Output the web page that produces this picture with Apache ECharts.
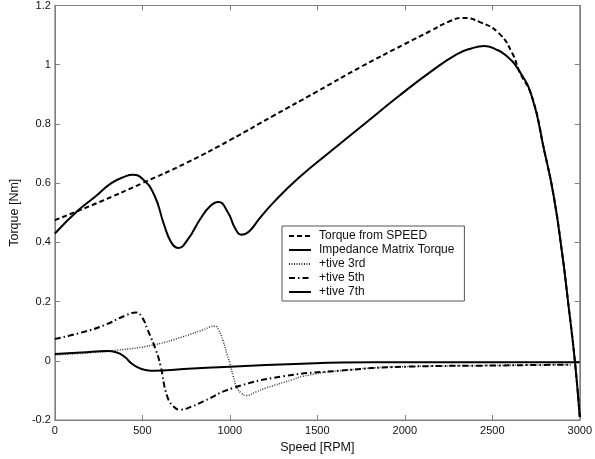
<!DOCTYPE html>
<html>
<head>
<meta charset="utf-8">
<script src="https://cdn.jsdelivr.net/npm/echarts@6/dist/echarts.min.js"></script>
<style>
html,body{margin:0;padding:0;background:#fff;}
#chart{width:595px;height:459px;}
</style>
</head>
<body>
<div id="chart"></div>
<script>
// Tick labels
const xTicks = [0, 500, 1000, 1500, 2000, 2500, 3000];
const yTicks = [-0.2, 0, 0.2, 0.4, 0.6, 0.8, 1, 1.2];

// Torque from SPEED
const speedRpm = [0,250,500,750,1000,1250,1500,1750,2000,2150,2250,2330,2430,2540,2615,2653,2727,2797,2850,2900,2933,2972,3000];
const speedTorque = [0.475,0.535,0.6,0.668,0.745,0.828,0.91,0.993,1.07,1.115,1.145,1.158,1.144,1.105,1.038,0.98,0.891,0.71,0.56,0.36,0.2,0,-0.19];

// Impedance Matrix Torque
const impRpm = [0,135,230,323,400,445,500,568,624,665,705,760,830,887,934,990,1030,1065,1110,1169,1250,1394,1582,1769,1957,2145,2296,2380,2455,2520,2577,2653,2727,2797,2850,2900,2933,2972,3000];
const impTorque = [0.43,0.509,0.554,0.6,0.622,0.628,0.615,0.56,0.46,0.4,0.381,0.41,0.478,0.522,0.536,0.5,0.448,0.426,0.437,0.48,0.535,0.618,0.71,0.8,0.89,0.975,1.035,1.055,1.063,1.052,1.032,0.98,0.891,0.71,0.56,0.36,0.2,0,-0.19];

// +tive 3rd
const h3Rpm = [0,200,348,567,736,849,890,915,935,960,985,1000,1018,1040,1065,1093,1150,1206,1356,1413,1619,2000,2500,2950];
const h3Torque = [0.02,0.027,0.035,0.054,0.082,0.105,0.115,0.117,0.105,0.07,0.02,-0.008,-0.05,-0.09,-0.109,-0.117,-0.105,-0.092,-0.064,-0.053,-0.034,-0.02,-0.016,-0.013];

// +tive 5th
const h5Rpm = [0,150,286,400,464,500,530,577,605,642,680,718,780,849,1018,1300,1619,2000,2500,2950];
const h5Torque = [0.074,0.095,0.121,0.152,0.163,0.145,0.105,0.037,-0.019,-0.12,-0.155,-0.165,-0.155,-0.137,-0.092,-0.053,-0.034,-0.02,-0.016,-0.013];

// +tive 7th
const h7Rpm = [0,150,300,350,400,436,480,520,567,736,1000,1413,1638,2000,3000];
const h7Torque = [0.023,0.028,0.033,0.029,0.013,-0.008,-0.024,-0.031,-0.034,-0.028,-0.02,-0.01,-0.006,-0.005,-0.005];

const names = ['Torque from SPEED','Impedance Matrix Torque','+tive 3rd','+tive 5th','+tive 7th'];

function zip(xs, ys){ return xs.map((x,i)=>[x, ys[i]]); }

const FONT = 'Liberation Sans, Arial, sans-serif';
const GRAY = '#808080';

function mkLine(name, xs, ys, width, type, color){
  return {
    name: name, type: 'line', data: zip(xs, ys),
    symbol: 'none', smooth: 0.5,
    lineStyle: {color: color || '#000', width: width, type: type},
    itemStyle: {color: color || '#000'},
    emphasis: {disabled: true},
    z: 3
  };
}

const chart = echarts.init(document.getElementById('chart'), null, {renderer:'canvas'});
chart.setOption({
  animation: false,
  backgroundColor: '#fff',
  grid: {left: 49, top: 5, width: 532.5, height: 415.5, show: true, borderColor: GRAY, borderWidth: 1, containLabel: false},
  xAxis: [{
    type: 'value', min: 0, max: 3000, interval: 500,
    name: 'Speed [RPM]', nameLocation: 'middle', nameGap: 21,
    nameTextStyle: {fontFamily: FONT, fontSize: 12.5, color: '#111'},
    axisLine: {show: true, onZero: false, lineStyle: {color: GRAY}},
    axisTick: {show: true, inside: true, length: 5, lineStyle: {color: GRAY}},
    axisLabel: {fontFamily: FONT, fontSize: 11, color: '#111', margin: 5,
      formatter: v => xTicks.includes(v) ? String(v) : ''},
    splitLine: {show: false}
  },{
    type: 'value', min: 0, max: 3000, interval: 500, position: 'top',
    axisLine: {show: true, onZero: false, lineStyle: {color: GRAY}},
    axisTick: {show: true, inside: true, length: 5, lineStyle: {color: GRAY}},
    axisLabel: {show: false}, splitLine: {show: false}
  }],
  yAxis: [{
    type: 'value', min: -0.2, max: 1.2, interval: 0.2,
    name: 'Torque [Nm]', nameLocation: 'middle', nameGap: 31,
    nameTextStyle: {fontFamily: FONT, fontSize: 12.5, color: '#111'},
    axisLine: {show: true, onZero: false, lineStyle: {color: GRAY}},
    axisTick: {show: true, inside: true, length: 5, lineStyle: {color: GRAY}},
    axisLabel: {fontFamily: FONT, fontSize: 11, color: '#111', margin: 4,
      formatter: v => { const r = Math.round(v*10)/10; const m = yTicks.find(t => Math.abs(t - r) < 1e-9); return m === undefined ? '' : String(m); }},
    splitLine: {show: false}
  },{
    type: 'value', min: -0.2, max: 1.2, interval: 0.2, position: 'right',
    axisLine: {show: true, onZero: false, lineStyle: {color: GRAY}},
    axisTick: {show: true, inside: true, length: 5, lineStyle: {color: GRAY}},
    axisLabel: {show: false}, splitLine: {show: false}
  }],
  legend: {
    data: names, orient: 'vertical', left: 282, top: 226,
    padding: [4, 10, 3, 6], itemWidth: 22, itemHeight: 12, itemGap: 2,
    borderColor: '#555', borderWidth: 1, backgroundColor: '#fff',
    itemStyle: {opacity: 0},
    textStyle: {fontFamily: FONT, fontSize: 12, color: '#111', lineHeight: 12, padding: [0,0,0,3]},
    selectedMode: false
  },
  series: [
    mkLine(names[0], speedRpm, speedTorque, 2, [5,3]),
    mkLine(names[1], impRpm, impTorque, 2, 'solid'),
    mkLine(names[2], h3Rpm, h3Torque, 1.5, [1,1.5], '#333'),
    mkLine(names[3], h5Rpm, h5Torque, 2, [6,3,1.5,3]),
    mkLine(names[4], h7Rpm, h7Torque, 2, 'solid')
  ]
});
</script>
</body>
</html>
